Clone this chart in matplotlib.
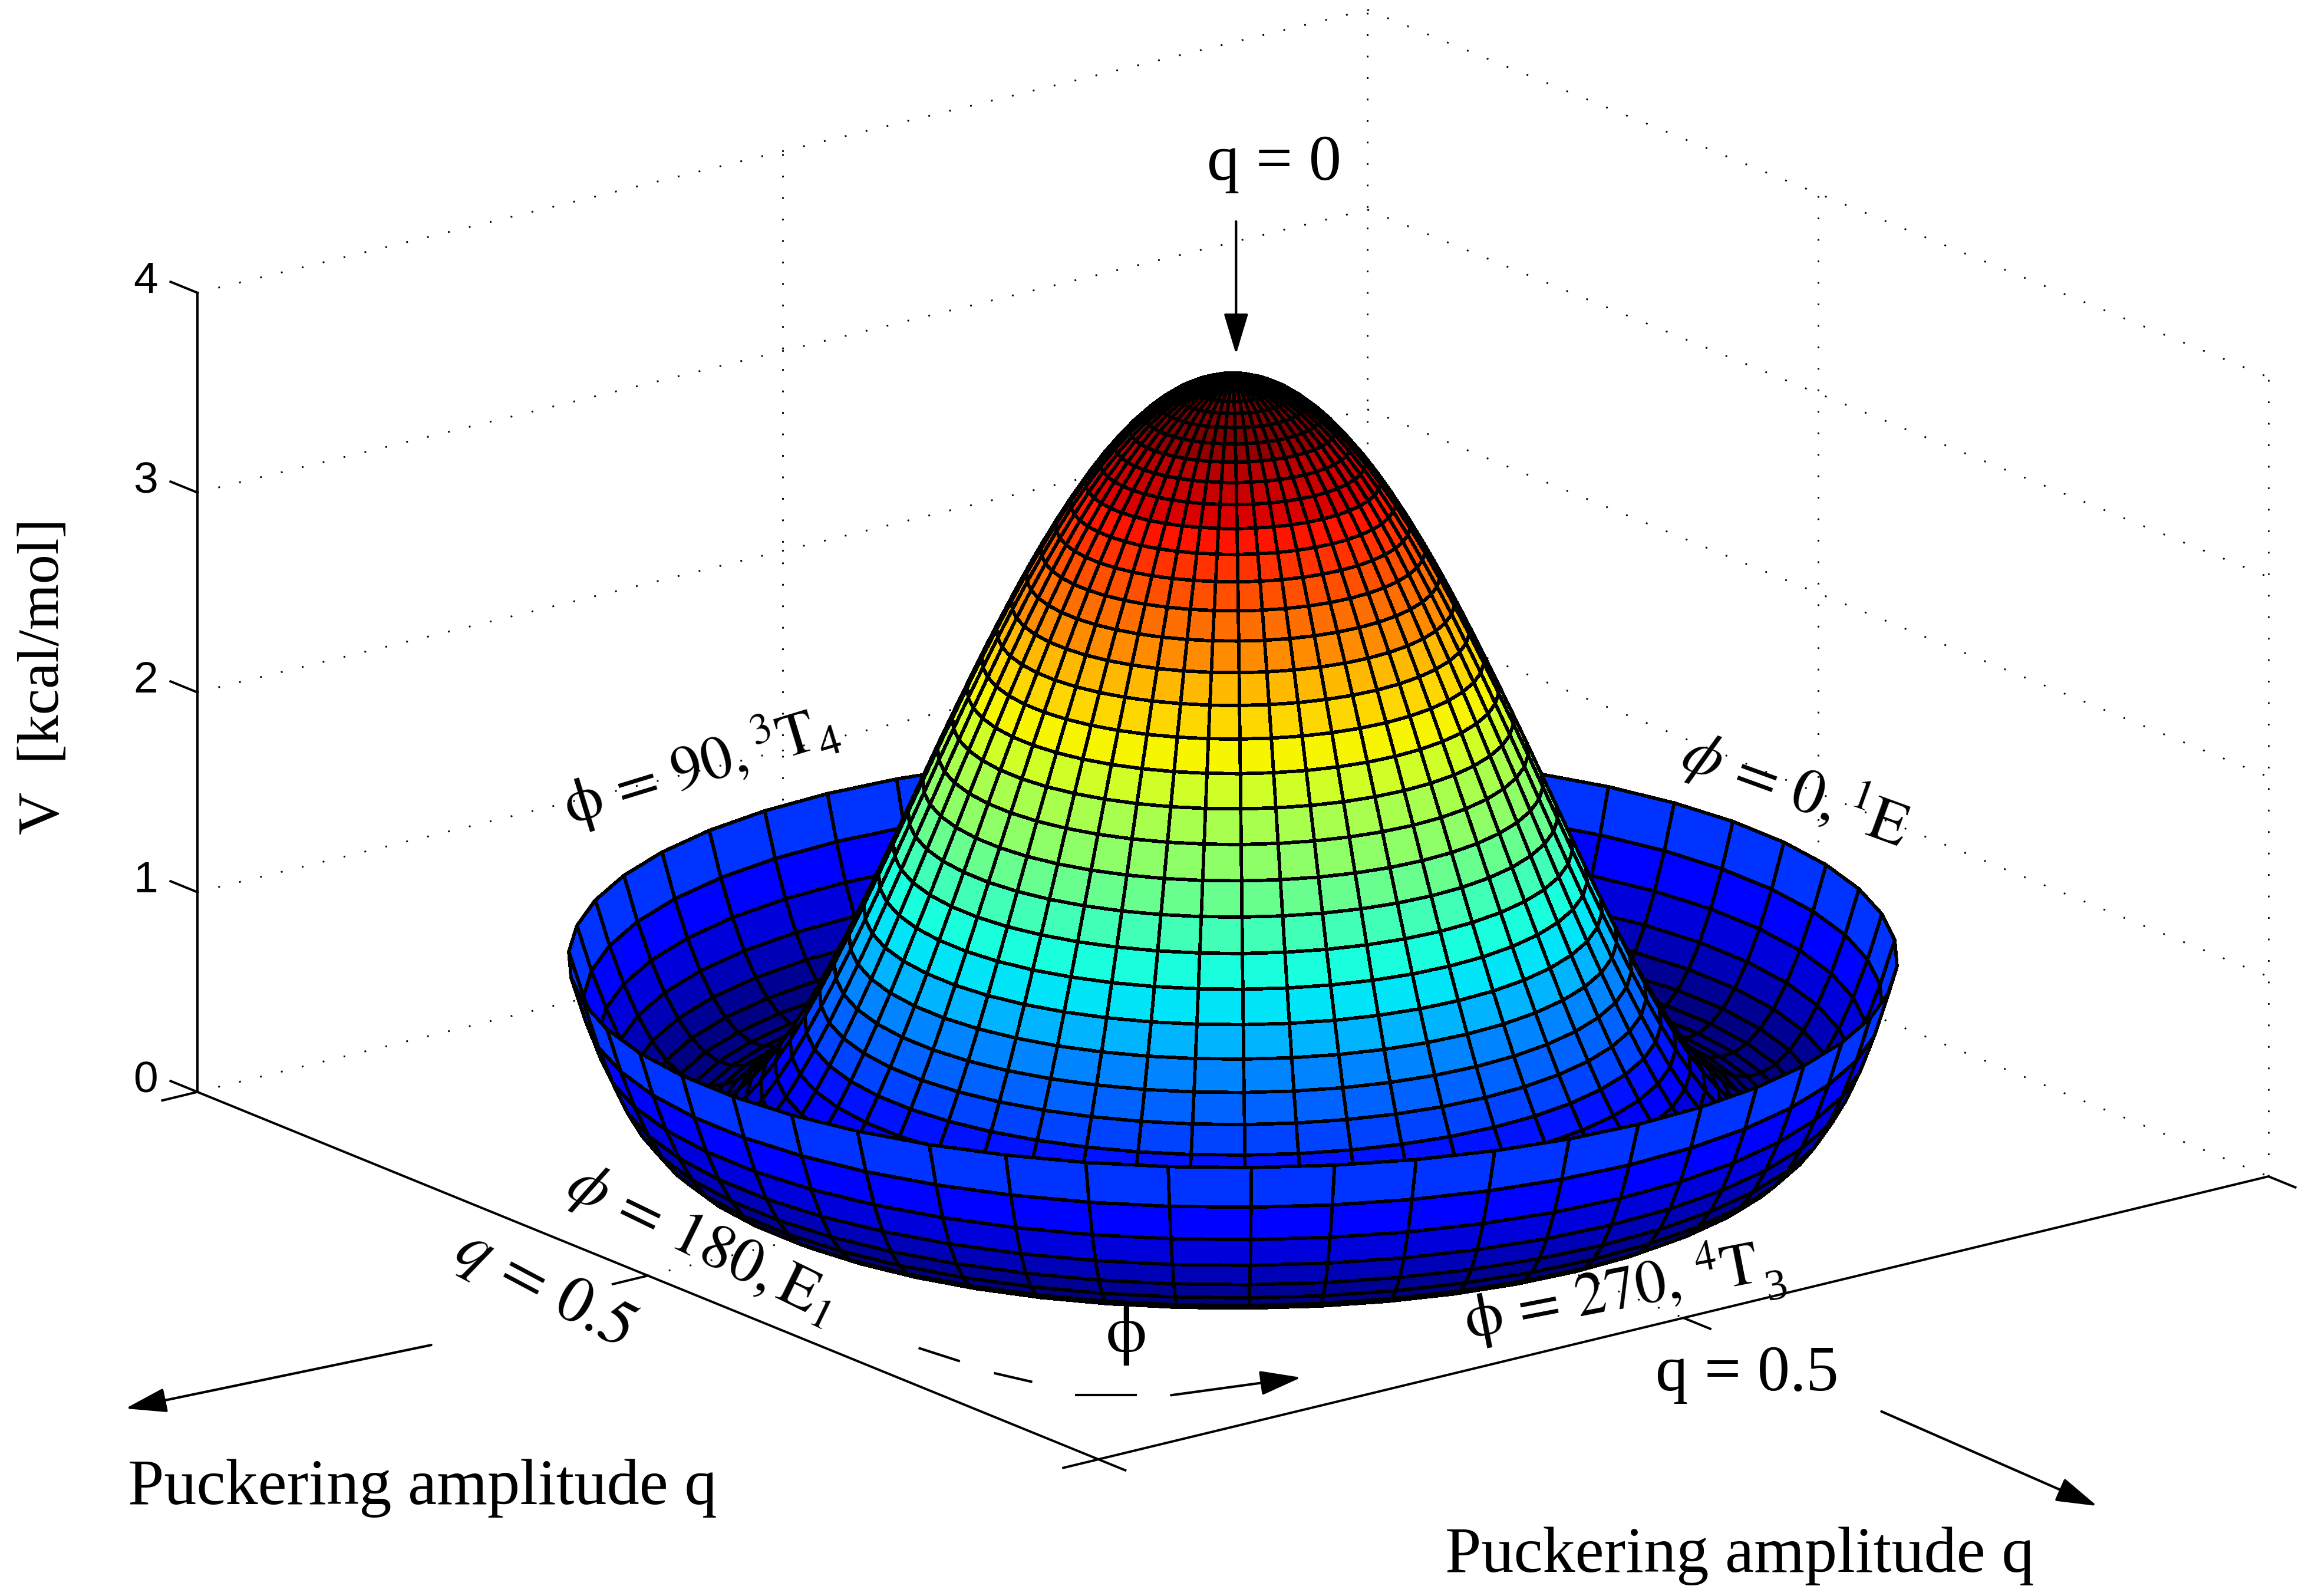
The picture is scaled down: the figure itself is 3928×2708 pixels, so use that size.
#!/usr/bin/env python3
"""Puckering potential V(q, phi) drawn as a polar mesh with the labels on top."""

import matplotlib
matplotlib.use("Agg")
import matplotlib.pyplot as plt
import numpy as np
from matplotlib.patches import FancyArrowPatch

W, H = 3929, 2708
DPI = 300

# radial profile
q_rings = [0.00, 0.02, 0.04, 0.06, 0.08, 0.10, 0.12, 0.14, 0.16, 0.18, 0.20, 0.22,
           0.24, 0.26, 0.28, 0.30, 0.32, 0.34, 0.36, 0.38, 0.40, 0.42, 0.44, 0.46,
           0.48, 0.50, 0.52, 0.54, 0.56, 0.58, 0.60, 0.62, 0.64, 0.66, 0.68, 0.70,
           0.72, 0.74, 0.76, 0.78, 0.80, 0.82, 0.84, 0.86, 0.88, 0.90]
v_rings = [3.785, 3.780, 3.764, 3.737, 3.700, 3.652, 3.594, 3.526, 3.447, 3.360, 3.263, 3.157,
           3.043, 2.921, 2.793, 2.658, 2.517, 2.372, 2.222, 2.069, 1.914, 1.755, 1.597, 1.438,
           1.282, 1.128, 0.979, 0.835, 0.698, 0.568, 0.448, 0.339, 0.243, 0.160, 0.092, 0.042,
           0.011, 0.000, 0.011, 0.047, 0.109, 0.198, 0.318, 0.470, 0.655, 0.877]
phi_deg = np.arange(0, 360.1, 7.2)
v_color_max = 3.7

z_ticks = [0, 1, 2, 3, 4]
z_tick_labels = ["0", "1", "2", "3", "4"]
q_lim = (-1.0, 1.0)
z_lim = (0, 4)

plt.rcParams["font.family"] = ["Liberation Serif", "DejaVu Serif"]
plt.rcParams["mathtext.fontset"] = "stix"

fig = plt.figure(figsize=(W / DPI, H / DPI), dpi=DPI, facecolor="white")

# square axes bigger than the figure, the box only fills part of it
side = 3929
ax = fig.add_axes([74.4 / W, -556 / H, side / W, side / H], projection="3d")
ax.set_proj_type("ortho")
ax.view_init(elev=18.3, azim=-37.6)
ax.set_box_aspect((1, 1, 0.57), zoom=0.944)
ax.set_xlim(*q_lim, view_margin=0)
ax.set_ylim(*q_lim, view_margin=0)
ax.set_zlim(*z_lim, view_margin=0)
ax.set_axis_off()
ax.patch.set_alpha(0)
ax.computed_zorder = False

x0, x1 = q_lim
y0, y1 = q_lim
z0, z1 = z_lim
DOT = (0, (1, 11.5))


def dotted(xs, ys, zs):
    ax.plot(xs, ys, zs, color="k", lw=0.7, ls=DOT, dash_capstyle="butt", zorder=1)


def solid(xs, ys, zs):
    ax.plot(xs, ys, zs, color="k", lw=0.95, zorder=3, solid_capstyle="butt")


# walls
for z in z_ticks:
    dotted([x0, x0], [y0, y1], [z, z])
    dotted([x0, x1], [y1, y1], [z, z])
for xv, yv in [(x0, y1), (x1, y1), (x0, 0.0), (0.0, y1)]:
    dotted([xv, xv], [yv, yv], [z0, z1])
dotted([0, 0], [y0, y1], [z0, z0])
dotted([x0, x1], [0, 0], [z0, z0])

# surface
r_grid, p_grid = np.meshgrid(q_rings, np.radians(phi_deg), indexing="ij")
z_grid = np.tile(np.array(v_rings)[:, None], (1, len(phi_deg)))
x_grid = r_grid * np.cos(p_grid)
y_grid = r_grid * np.sin(p_grid)
jet = plt.get_cmap("jet", 64)
face = jet(np.clip(z_grid / v_color_max, 0, 1))
surf = ax.plot_surface(x_grid, y_grid, z_grid, facecolors=face, rstride=1, cstride=1,
                       shade=False, antialiased=False, zorder=2)
surf.set_edgecolor("k")
surf.set_linewidth(1.15)

# axis lines and ticks
tick = 0.062
solid([x0, x1], [y0, y0], [z0, z0])
solid([x1, x1], [y0, y1], [z0, z0])
solid([x0, x0], [y0, y0], [z0, z1])
for z, lab in zip(z_ticks, z_tick_labels):
    solid([x0, x0 - tick], [y0, y0], [z, z])
    ax.text(x0 - 0.115, y0, z - 0.05, lab, fontsize=18, family="Liberation Sans",
            ha="center", va="center", zorder=4)
for xv in [x0, 0.0, x1]:
    solid([xv, xv], [y0, y0 - tick], [z0, z0])
for yv in [y0, 0.0, y1]:
    solid([x1, x1 + tick], [yv, yv], [z0, z0])

# annotations, in the pixel frame of the shrunk reference
over = fig.add_axes([0, 0, 1, 1], zorder=5)
over.set_xlim(0, 1568)
over.set_ylim(1081, 0)
over.set_axis_off()
over.patch.set_alpha(0)


def label(x, y, s, size=26.5, rot=0):
    over.text(x, y, s, fontsize=size, rotation=rot, ha="center", va="center",
              rotation_mode="anchor")


def arrow(start, end):
    over.add_patch(FancyArrowPatch(start, end, arrowstyle="-|>,head_length=0.6,head_width=0.18",
                                   mutation_scale=24, lw=1.0, color="k",
                                   shrinkA=0, shrinkB=0))


label(863, 111, "q = 0")
label(30, 458, "V  [kcal/mol]", size=24, rot=90)
label(467, 521, r"$\mathrm{\phi}\,=\,90,{}^{3}\mathrm{T}$", size=25, rot=17)
label(562, 504, "4", size=18, rot=17)
label(1216, 534, r"$\phi\,=\,\mathit{0},{}^{1}\mathrm{E}$", size=25.5, rot=-20)
label(475, 843, r"$\phi\,=\,\mathit{180},\mathrm{E}_{1}$", size=25.5, rot=-26)
label(368, 873, r"$q\,=\,\mathit{0.5}$", rot=-28)
label(1091, 875, r"$\mathrm{\phi}\,=\,270,\,{}^{4}\mathrm{T}$", size=25, rot=11)
label(1203, 873, "3", size=18, rot=11)
label(1183, 931, "q = 0.5")
label(762, 905, r"$\mathrm{\phi}$")
label(286, 1008, "Puckering amplitude q")
label(1178, 1054, "Puckering amplitude q")

arrow((837, 150), (837, 240))
arrow((292, 911), (85, 954))
arrow((1274, 956), (1420, 1020))
arrow((793, 945), (881, 933))
for (xa, ya), (xb, yb) in [((622, 913), (650, 922)), ((673, 930), (699, 936)), ((728, 945), (770, 945))]:
    over.plot([xa, xb], [ya, yb], color="k", lw=1.0, solid_capstyle="butt")

fig.savefig("out.png", dpi=DPI, facecolor="white")
